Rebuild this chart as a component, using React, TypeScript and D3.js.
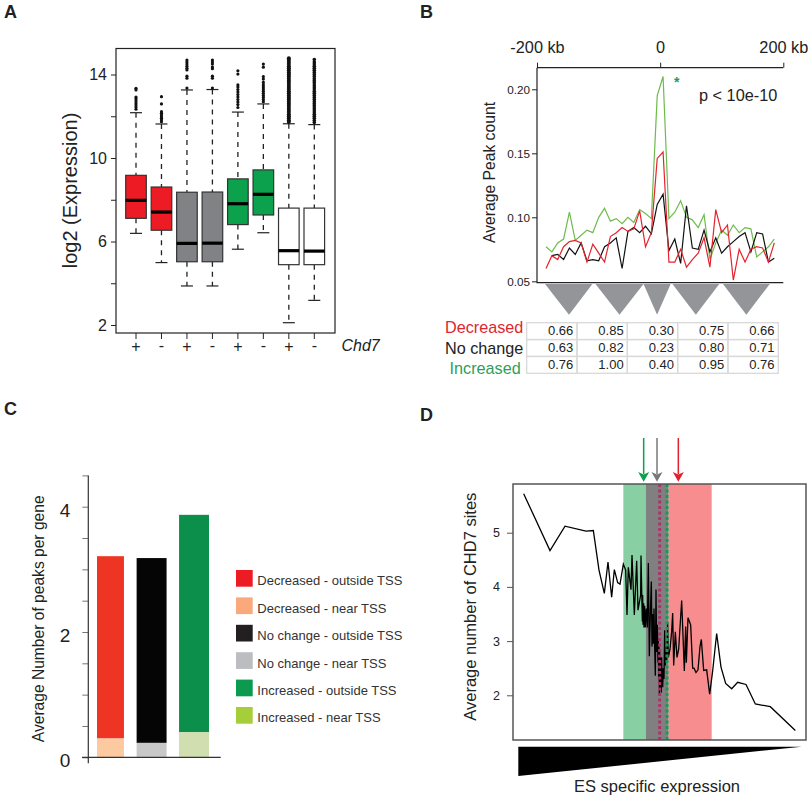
import { useEffect, useRef } from "react"
import * as d3 from "d3"

const FONT = "'Liberation Sans', Arial, sans-serif"

// Panel A
const boxSigns = ["+", "-", "+", "-", "+", "-", "+", "-"]
const boxQ3 = [9.17, 8.61, 8.36, 8.37, 9.0, 9.43, 7.6, 7.6]
const boxMedian = [7.97, 7.41, 5.91, 5.92, 7.81, 8.26, 5.56, 5.54]
const boxQ1 = [7.11, 6.54, 5.03, 5.03, 6.81, 7.27, 4.89, 4.89]
const whiskerHigh = [12.17, 11.63, 13.26, 13.28, 12.2, 12.59, 11.64, 11.6]
const whiskerLow = [6.39, 4.99, 3.87, 3.87, 5.63, 6.42, 2.11, 3.18]
const boxColors = ["#ed1c24", "#ed1c24", "#808285", "#808285", "#0ca14d", "#0ca14d", "#ffffff", "#ffffff"]
const outliers = [
  [13.34, 13.26, 12.92, 12.84, 12.74, 12.64, 12.54, 12.44, 12.34],
  [12.94, 12.59, 12.22, 12.14, 12.06, 11.98, 11.9, 11.82, 11.74],
  [14.69, 14.6, 14.5, 14.4, 14.3, 14.22, 13.92, 13.82, 13.35],
  [14.69, 14.6, 14.5, 14.36, 14.28, 13.92, 13.82, 13.35],
  [14.18, 14.02, 13.5, 13.4, 13.28, 13.16, 13.04, 12.92, 12.8, 12.68, 12.56, 12.42],
  [14.5, 14.35, 13.9, 13.78, 13.62, 13.5, 13.4, 13.3, 13.2, 13.1, 13, 12.9, 12.8, 12.7],
  [14.78, 14.7, 14.6, 14.5, 14.4, 14.3, 14.2, 14.1, 14, 13.9, 13.8, 13.7, 13.6, 13.5, 13.4, 13.3, 13.2, 13.1, 13, 12.9, 12.8, 12.7, 12.6, 12.5, 12.4, 12.3, 12.2, 12.1, 12, 11.9, 11.8, 11.72],
  [14.72, 14.6, 14.5, 14.4, 14.3, 14.2, 14.1, 14, 13.9, 13.8, 13.7, 13.6, 13.5, 13.4, 13.3, 13.2, 13.1, 13, 12.9, 12.8, 12.7, 12.6, 12.5, 12.4, 12.3, 12.2, 12.1, 12, 11.9, 11.8, 11.7],
]

// Panel B
const peakIncreased = [0.077, 0.073, 0.08, 0.083, 0.104, 0.082, 0.086, 0.09, 0.088, 0.1, 0.107, 0.097, 0.099, 0.095, 0.1, 0.096, 0.106, 0.103, 0.099, 0.195, 0.21, 0.099, 0.104, 0.113, 0.1, 0.098, 0.092, 0.102, 0.067, 0.08, 0.09, 0.086, 0.094, 0.088, 0.092, 0.091, 0.069, 0.073, 0.077, 0.083]
const peakDecreased = [0.06, 0.07, 0.067, 0.077, 0.081, 0.082, 0.08, 0.065, 0.079, 0.072, 0.065, 0.085, 0.088, 0.092, 0.089, 0.091, 0.105, 0.077, 0.088, 0.146, 0.151, 0.065, 0.065, 0.075, 0.061, 0.067, 0.072, 0.084, 0.061, 0.106, 0.088, 0.094, 0.051, 0.075, 0.065, 0.075, 0.077, 0.076, 0.065, 0.08]
const peakNoChange = [null, 0.07, 0.071, 0.067, 0.076, 0.071, 0.08, 0.066, 0.067, 0.066, 0.077, 0.08, 0.084, 0.06, 0.089, 0.092, 0.088, 0.093, 0.087, 0.11, 0.118, 0.074, 0.083, 0.064, 0.109, 0.076, 0.075, 0.09, 0.073, 0.084, 0.072, 0.077, 0.081, 0.085, 0.088, 0.073, 0.088, 0.087, 0.065, 0.068]
const peakTicks = [0.05, 0.1, 0.15, 0.2]
const kbTicks = [-200, 0, 200]
const kbLabels = ["-200 kb", "0", "200 kb"]
const windowsKb = [
  [-187, -148, -110],
  [-105, -66, -27],
  [-27, -5, 17],
  [20, 58, 96],
  [102, 140, 178],
]
const tableRows = ["Decreased", "No change", "Increased"]
const tableColors = ["#e0262e", "#222222", "#2e9e5b"]
const tableValues = [
  ["0.66", "0.85", "0.30", "0.75", "0.66"],
  ["0.63", "0.82", "0.23", "0.80", "0.71"],
  ["0.76", "1.00", "0.40", "0.95", "0.76"],
]

// Panel C
const barGroups = ["Decreased", "No change", "Increased"]
const barTotal = [3.21, 3.18, 3.87]
const barNearTss = [0.3, 0.23, 0.4]
const barTopColors = ["#ee3524", "#050505", "#0b8f4a"]
const barBottomColors = ["#fdc9a0", "#c8c8c8", "#d0deb0"]
const legendLabels = [
  "Decreased - outside TSS",
  "Decreased - near TSS",
  "No change - outside TSS",
  "No change - near TSS",
  "Increased - outside TSS",
  "Increased - near TSS",
]
const legendColors = ["#ed1c24", "#f9a97c", "#231f20", "#bcbdc0", "#0c9b4e", "#a6ce39"]

// Panel D (rank is in arbitrary expression rank units)
const sitesRank = [221, 300, 345, 408, 430, 447, 463, 474, 485, 493, 503, 510, 520, 527, 531, 535, 543, 546, 553, 560, 564, 572, 573, 577, 578, 579, 581, 582, 584, 586, 589, 592, 595, 598, 601, 604, 606, 608, 610, 612, 614, 616, 618, 620, 622, 624, 625, 626, 627, 628, 629, 630, 631, 632, 633, 634, 635, 636, 637, 638, 640, 642, 644, 646, 648, 650, 653, 655, 660, 665, 668, 671, 676, 681, 686, 695, 703, 707, 709, 714, 722, 728, 732, 738, 744, 750, 754, 761, 770, 779, 788, 800, 813, 827, 845, 863, 888, 916, 961, 1036]
const sitesCount = [5.72, 4.67, 5.12, 5.03, 5.04, 4.31, 3.88, 4.46, 3.81, 4.32, 4.08, 4.05, 4.42, 4.31, 3.48, 4.36, 3.95, 4.59, 3.48, 4.48, 3.57, 3.85, 4.58, 3.36, 3.85, 3.3, 3.7, 3.25, 3.65, 3.25, 3.6, 3.25, 4.44, 2.72, 3.5, 4.1, 2.9, 3.5, 2.95, 3.6, 2.9, 2.36, 3.95, 2.8, 3.3, 2.6, 3.05, 2.3, 2.9, 2.0, 2.85, 2.2, 2.75, 2.1, 2.6, 2.05, 2.7, 2.2, 2.5, 2.15, 2.5, 2.3, 3.2, 2.55, 2.85, 2.65, 3.35, 2.7, 2.85, 3.18, 3.52, 2.55, 3.17, 2.7, 2.85, 3.75, 2.45, 3.27, 2.6, 3.43, 3.3, 2.5, 2.5, 2.42, 2.47, 2.9, 3.03, 2.46, 2.47, 2.02, 2.45, 3.14, 2.52, 2.22, 2.12, 2.24, 2.2, 1.84, 1.79, 1.35]
const sitesTicks = [2, 3, 4, 5]
const bandEdges = [520, 587, 656, 785]
const bandColors = ["#88d0a4", "#808080", "#f88d8f"]
const dottedRanks = [629, 651]
const dottedColors = ["#b0306a", "#1a9a50"]
const arrowRanks = [581, 621, 685]
const arrowColors = ["#0ca14d", "#77787b", "#e0202c"]

const addText = (g: any, x: number, y: number, txt: string, size: number, anchor = "start", fill = "#222") =>
  g
    .append("text")
    .attr("x", x)
    .attr("y", y)
    .attr("text-anchor", anchor)
    .attr("fill", fill)
    .style("font-size", `${size}px`)
    .text(txt)

const addRotated = (g: any, x: number, y: number, txt: string, size: number) =>
  g
    .append("text")
    .attr("transform", `translate(${x},${y}) rotate(-90)`)
    .attr("text-anchor", "middle")
    .attr("fill", "#222")
    .style("font-size", `${size}px`)
    .text(txt)

const styleAxis = (a: any, size: number, color = "#222") => {
  a.select(".domain").remove()
  a.selectAll("line").attr("stroke", color).attr("stroke-width", 1)
  a.selectAll("text").attr("fill", "#222").style("font-size", `${size}px`).style("font-family", FONT)
}

function drawBoxes(svg: any) {
  const g = svg.append("g")
  const left = 116
  const right = 335
  const top = 48.5
  const bottom = 333
  const x = d3.scalePoint<number>().domain(d3.range(8)).range([136, 314.3])
  const y = d3.scaleLinear().domain([2, 14]).range([325, 74.5])
  const half = 10.3

  boxSigns.forEach((sign, i) => {
    const cx = x(i)!
    const b = g.append("g")
    b.append("line")
      .attr("x1", cx)
      .attr("x2", cx)
      .attr("y1", y(whiskerHigh[i]))
      .attr("y2", y(boxQ3[i]))
      .attr("stroke", "#222")
      .attr("stroke-width", 1.3)
      .attr("stroke-dasharray", "5,5")
    b.append("line")
      .attr("x1", cx)
      .attr("x2", cx)
      .attr("y1", y(boxQ1[i]))
      .attr("y2", y(whiskerLow[i]))
      .attr("stroke", "#222")
      .attr("stroke-width", 1.3)
      .attr("stroke-dasharray", "5,5")
    ;[whiskerHigh[i], whiskerLow[i]].forEach((v) => {
      b.append("line")
        .attr("x1", cx - 6)
        .attr("x2", cx + 6)
        .attr("y1", y(v))
        .attr("y2", y(v))
        .attr("stroke", "#222")
        .attr("stroke-width", 1.2)
    })
    b.selectAll(".out")
      .data(outliers[i])
      .enter()
      .append("circle")
      .attr("cx", cx)
      .attr("cy", (d: number) => y(d))
      .attr("r", i === 6 ? 2 : i === 7 ? 1.8 : 1.6)
      .attr("fill", "#111")
    b.append("rect")
      .attr("x", cx - half)
      .attr("width", half * 2)
      .attr("y", y(boxQ3[i]))
      .attr("height", y(boxQ1[i]) - y(boxQ3[i]))
      .attr("fill", boxColors[i])
      .attr("stroke", "#333")
      .attr("stroke-width", 1.2)
    b.append("line")
      .attr("x1", cx - half)
      .attr("x2", cx + half)
      .attr("y1", y(boxMedian[i]))
      .attr("y2", y(boxMedian[i]))
      .attr("stroke", "#000")
      .attr("stroke-width", 3.2)
    addText(g, cx, sign === "+" ? 351.5 : 351, sign === "+" ? "+" : "-", 16, "middle")
    g.append("line").attr("x1", cx).attr("x2", cx).attr("y1", bottom).attr("y2", bottom + 6).attr("stroke", "#222")
  })

  g.append("rect")
    .attr("x", left)
    .attr("y", top)
    .attr("width", right - left)
    .attr("height", bottom - top)
    .attr("fill", "none")
    .attr("stroke", "#222")
    .attr("stroke-width", 1.2)

  const axis = g
    .append("g")
    .attr("transform", `translate(${left},0)`)
    .call(
      d3
        .axisLeft(y)
        .tickValues([2, 4, 6, 8, 10, 12, 14])
        .tickSize(5)
        .tickPadding(4)
        .tickFormat((d: any) => (d % 4 === 2 ? String(d) : "")),
    )
  styleAxis(axis, 16)

  addRotated(g, 77, 190.5, "log2 (Expression)", 20)
  addText(g, 341.5, 350.5, "Chd7", 16).style("font-style", "italic")
}

function drawPeaks(svg: any) {
  const g = svg.append("g")
  const left = 537
  const right = 783.3
  const top = 67.7
  const bottom = 282.7
  const xKb = d3.scaleLinear().domain([-200, 200]).range([left, right])
  const xBin = d3.scalePoint<number>().domain(d3.range(peakIncreased.length)).range([546, 774.3])
  const y = d3.scaleLinear().domain([0.05, 0.2]).range([281.3, 89.3])

  g.append("path")
    .attr("d", `M${left},${top}H${right}M${left},${top}V${bottom}H${right}`)
    .attr("fill", "none")
    .attr("stroke", "#222")
    .attr("stroke-width", 1.2)

  const axisY = g
    .append("g")
    .attr("transform", `translate(${left},0)`)
    .call(d3.axisLeft(y).tickValues(peakTicks).tickSize(5).tickPadding(2).tickFormat(d3.format(".2f")))
  styleAxis(axisY, 11.7)

  const axisX = g
    .append("g")
    .attr("transform", `translate(0,${top})`)
    .call(
      d3
        .axisTop(xKb)
        .tickValues(kbTicks)
        .tickSize(5)
        .tickPadding(10)
        .tickFormat((_: any, i: number) => kbLabels[i]),
    )
  styleAxis(axisX, 16.3)

  const line = d3
    .line<number | null>()
    .defined((d) => d !== null)
    .x((_, i) => xBin(i)!)
    .y((d) => y(d as number))
  ;[
    { v: peakIncreased, c: "#6dbb4b" },
    { v: peakNoChange, c: "#111111" },
    { v: peakDecreased, c: "#e5232d" },
  ].forEach((s) => {
    g.append("path").attr("d", line(s.v)).attr("fill", "none").attr("stroke", s.c).attr("stroke-width", 1.2)
  })

  addRotated(g, 495, 172.5, "Average Peak count", 15.7)
  addText(g, 699, 100.7, "p < 10e-10", 16.3)
  addText(g, 676.7, 87, "*", 14, "middle", "#1aa05a").style("font-weight", "bold")

  g.selectAll(".win")
    .data(windowsKb)
    .enter()
    .append("path")
    .attr("d", (d: number[]) => `M${xKb(d[0])},284L${xKb(d[2])},284L${xKb(d[1])},314.7Z`)
    .attr("fill", "#939598")

  const col = d3.scaleBand<number>().domain(d3.range(5)).range([526.7, 778.3])
  const row = d3.scaleBand<number>().domain(d3.range(3)).range([322.7, 373.3])
  const labelRight = [523.3, 523.3, 520.7]
  const labelBase = [333, 354, 374]
  tableRows.forEach((name, r) => {
    addText(g, labelRight[r], labelBase[r], name, 16.2, "end", tableColors[r])
    tableValues[r].forEach((v, c) => {
      g.append("rect")
        .attr("x", col(c)!)
        .attr("y", row(r)!)
        .attr("width", col.bandwidth())
        .attr("height", row.bandwidth())
        .attr("fill", "none")
        .attr("stroke", "#d9d9d9")
        .attr("stroke-width", 1.3)
      addText(g, col(c)! + col.bandwidth() - 3.7, row(r)! + 12.6, v, 13, "end")
    })
  })
}

function drawBars(svg: any) {
  const g = svg.append("g")
  const axisX = 88.3
  const y = d3.scaleLinear().domain([0, 4]).range([757.3, 506.7])
  const x = d3.scaleBand<string>().domain(barGroups).range([97, 209]).paddingInner(0.27)
  // bars in the figure are not quite evenly placed
  const insets = [[0, 3], [-1.4, -1.4], [0, 0]]

  barGroups.forEach((name, i) => {
    const bx = x(name)! + insets[i][0]
    const bw = x.bandwidth() - insets[i][1] + insets[i][0]
    g.append("rect")
      .attr("x", bx)
      .attr("width", bw)
      .attr("y", y(barTotal[i]))
      .attr("height", y(barNearTss[i]) - y(barTotal[i]))
      .attr("fill", barTopColors[i])
    g.append("rect")
      .attr("x", bx)
      .attr("width", bw)
      .attr("y", y(barNearTss[i]))
      .attr("height", y(0) - y(barNearTss[i]))
      .attr("fill", barBottomColors[i])
  })

  const axis = g
    .append("g")
    .attr("transform", `translate(${axisX},0)`)
    .call(
      d3
        .axisLeft(y)
        .tickValues([0, 0.5, 1, 1.5, 2, 2.5, 3, 3.5, 4, 4.5])
        .tickSize(6)
        .tickPadding(12)
        .tickFormat((d: any) => (d % 2 === 0 ? String(d) : "")),
    )
  styleAxis(axis, 19)
  axis.selectAll("line").attr("stroke", "#777")
  axis.selectAll("text").attr("dy", "0.5em")

  g.append("line").attr("x1", axisX).attr("x2", axisX).attr("y1", y(4.5)).attr("y2", y(0) + 6).attr("stroke", "#333").attr("stroke-width", 1.2)
  g.append("line").attr("x1", 82).attr("x2", 220.7).attr("y1", y(0)).attr("y2", y(0)).attr("stroke", "#333").attr("stroke-width", 1.2)

  addRotated(g, 44.3, 618.8, "Average Number of peaks per gene", 15.6)

  const rowY = d3.scalePoint<number>().domain(d3.range(6)).range([570, 707])
  legendLabels.forEach((name, i) => {
    g.append("rect").attr("x", 236).attr("y", rowY(i)!).attr("width", 16.7).attr("height", 16.7).attr("fill", legendColors[i])
    addText(g, 257.3, rowY(i)! + 15.3, name, 13, "start", "#333")
  })
}

function drawSites(svg: any) {
  const g = svg.append("g")
  const left = 513
  const right = 806
  const top = 484
  const bottom = 740
  const x = d3.scaleLinear().domain([189, 1068]).range([left, right])
  const y = d3.scaleLinear().domain([2, 5]).range([695.3, 532.7])

  bandColors.forEach((c, i) => {
    g.append("rect")
      .attr("x", x(bandEdges[i]))
      .attr("width", x(bandEdges[i + 1]) - x(bandEdges[i]))
      .attr("y", top)
      .attr("height", bottom - top)
      .attr("fill", c)
  })

  const line = d3
    .line<number>()
    .x((_, i) => x(sitesRank[i]))
    .y((d) => y(d))
  g.append("path").attr("d", line(sitesCount)).attr("fill", "none").attr("stroke", "#000").attr("stroke-width", 1.3)

  dottedRanks.forEach((r, i) => {
    g.append("line")
      .attr("x1", x(r))
      .attr("x2", x(r))
      .attr("y1", top)
      .attr("y2", bottom)
      .attr("stroke", dottedColors[i])
      .attr("stroke-width", 3)
      .attr("stroke-dasharray", "3,2.5")
  })

  g.append("rect")
    .attr("x", left)
    .attr("y", top)
    .attr("width", right - left)
    .attr("height", bottom - top)
    .attr("fill", "none")
    .attr("stroke", "#555")
    .attr("stroke-width", 1.5)

  const axis = g
    .append("g")
    .attr("transform", `translate(${left},0)`)
    .call(d3.axisLeft(y).tickValues(sitesTicks).tickSize(6).tickPadding(7).tickFormat(d3.format("d")))
  styleAxis(axis, 12.5, "#555")

  arrowRanks.forEach((r, i) => {
    const ax = x(r)
    g.append("line").attr("x1", ax).attr("x2", ax).attr("y1", 438).attr("y2", 474).attr("stroke", arrowColors[i]).attr("stroke-width", 1.5)
    g.append("path").attr("d", `M${ax - 5.5},472L${ax},481.7L${ax + 5.5},472L${ax},474.5Z`).attr("fill", arrowColors[i])
  })

  addRotated(g, 475.7, 606.7, "Average number of CHD7 sites", 16.5)
  g.append("path").attr("d", "M518.3,746.7L801.7,746.7L518.3,776Z").attr("fill", "#000")
  addText(g, 657, 791.7, "ES specific expression", 16.5, "middle")
}

export default function App() {
  const svgRef = useRef<SVGSVGElement>(null)

  useEffect(() => {
    if (!svgRef.current) return
    const svg = d3.select(svgRef.current)
    svg.selectAll("*").remove()
    svg.style("font-family", FONT)

    drawBoxes(svg)
    drawPeaks(svg)
    drawBars(svg)
    drawSites(svg)

    // Panel letters
    ;[
      ["A", 4, 17.5],
      ["B", 420, 17.5],
      ["C", 4, 415],
      ["D", 420, 421],
    ].forEach(([t, lx, ly]) => {
      addText(svg, lx as number, ly as number, t as string, 18, "start", "#222").style("font-weight", "bold")
    })
  }, [])

  return <svg ref={svgRef} width={811} height={800} style={{ position: "absolute", left: 0, top: 0, background: "#fff" }} />
}
